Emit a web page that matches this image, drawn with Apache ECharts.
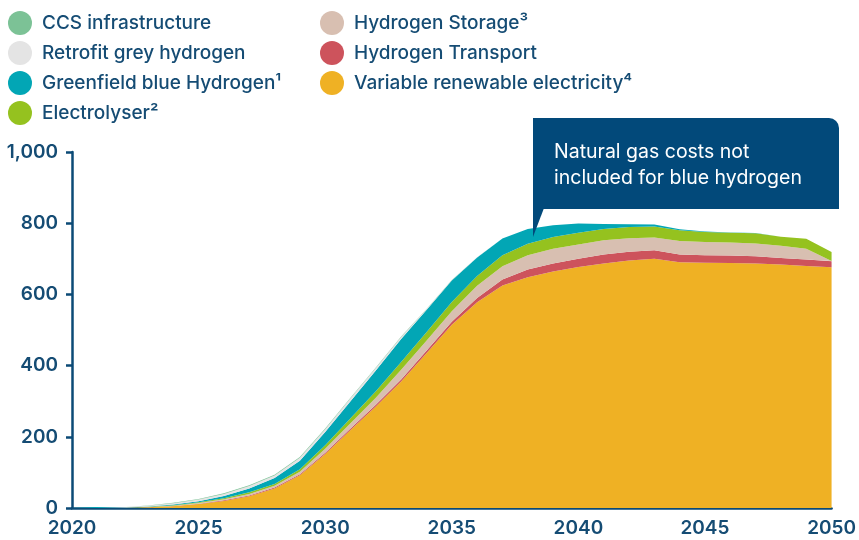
<!DOCTYPE html>
<html><head><meta charset="utf-8">
<script src="https://cdn.jsdelivr.net/npm/echarts@6/dist/echarts.min.js"></script>
<style>html,body{margin:0;padding:0;background:#fff}#c{width:859px;height:540px}</style>
</head><body><div id="c"></div>
<script>
const years = [2020,2021,2022,2023,2024,2025,2026,2027,2028,2029,2030,2031,2032,2033,2034,2035,2036,2037,2038,2039,2040,2041,2042,2043,2044,2045,2046,2047,2048,2049,2050];
const vre =          [0,0,0,2,5,11,20,33,55,92,152,219,285,355,435,515,578,625,648,664,677,687,695,700,690,689,688,687,684,680,676];
const transport =    [0,0,0,0.3,0.6,1,1.5,2,2.5,3,3.5,4,5,6,7,8,12,17,22,23,23,25,24.5,24,22,21,21,20,18,18,17];
const storage =      [0,0,0,0.5,1,2,3,4.5,5,7,11,15,20,27,28,30,34,37,40,41,40,40,38,36,38,37,37,36,35,30,1];
const electrolyser = [0,0,0,0.5,1,2,3,4.5,5,7,10,14,18,22,24,26,28,31,32,33,33,32,32,31,30,28,27,29,25,28,25];
const greenfield =   [0,3,1,1,2,3,6,11,17,24,37,48,58,65,62,60,52,47,42,33,26,14,7.5,5,3,2,1,0.3,0,0,0];
const retrofit =     [0,0,1,2,4,5,6,7,7,8,8,8,7,5,2,1,0.5,0,0,0,0,0,0,0,0,0,0,0,0,0,0];
const ccs =          [0,0,0,0.5,1,1.5,2,2,2,2,2,2,2,2,1,0.5,0,0,0,0,0,0,0,0,0,0,0,0,0,0,0];
const yTicks = [0,200,400,600,800,1000];
const xTicks = [2020,2025,2030,2035,2040,2045,2050];

const names = {
  vre: 'Variable renewable electricity\u2074',
  transport: 'Hydrogen Transport',
  storage: 'Hydrogen Storage\u00b3',
  electrolyser: 'Electrolyser\u00b2',
  greenfield: 'Greenfield blue Hydrogen\u00b9',
  retrofit: 'Retrofit grey hydrogen',
  ccs: 'CCS infrastructure'
};
const colors = {
  vre: '#efb124', transport: '#cd535c', storage: '#d8bfb1', electrolyser: '#95c21f',
  greenfield: '#02a6b5', retrofit: '#e4e4e4', ccs: '#7cc296'
};
const dataMap = {vre, transport, storage, electrolyser, greenfield, retrofit, ccs};
const order = ['vre','transport','storage','electrolyser','greenfield','retrofit','ccs'];
const TXT = '#154c74';
const FONT = 'Inter';

const series = order.map(k => ({
  name: names[k], type: 'line', stack: 'total', symbol: 'none', smooth: false,
  lineStyle: {width: 0}, itemStyle: {color: colors[k]},
  areaStyle: {color: colors[k], opacity: 1},
  data: dataMap[k]
}));

const legendText = {color: TXT, fontSize: 19, fontFamily: FONT, fontWeight: 500, padding: [0,0,0,5]};
const chart = echarts.init(document.getElementById('c'), null, {renderer: 'canvas'});
chart.setOption({
  animation: false,
  backgroundColor: '#fff',
  grid: {left: 72, right: 24, top: 152, bottom: 32, containLabel: false},
  legend: [
    {data: [names.ccs, names.retrofit, names.greenfield, names.electrolyser],
     orient: 'vertical', left: 8, top: 11, padding: 0, icon: 'circle', itemWidth: 24, itemHeight: 24, itemGap: 6,
     textStyle: legendText, selectedMode: false},
    {data: [names.storage, names.transport, names.vre],
     orient: 'vertical', left: 320, top: 11, padding: 0, icon: 'circle', itemWidth: 24, itemHeight: 24, itemGap: 6,
     textStyle: legendText, selectedMode: false}
  ],
  xAxis: {
    type: 'category', data: years.map(String), boundaryGap: false,
    axisLine: {show: true, lineStyle: {color: '#0b4a76', width: 2.5}},
    axisTick: {show: false}, splitLine: {show: false},
    axisLabel: {color: TXT, fontSize: 19, fontFamily: FONT, fontWeight: 600, margin: 11,
      interval: (i, v) => xTicks.indexOf(+v) >= 0, showMaxLabel: true}
  },
  yAxis: {
    type: 'value', min: yTicks[0], max: yTicks[yTicks.length-1], interval: 200,
    axisLine: {show: true, lineStyle: {color: '#0b4a76', width: 2.5}},
    axisTick: {show: true, length: 6, lineStyle: {color: '#0b4a76', width: 2.5}},
    splitLine: {show: false},
    axisLabel: {color: TXT, fontSize: 19, fontFamily: FONT, fontWeight: 600, margin: 14,
      formatter: v => v.toLocaleString('en-US')}
  },
  series: series,
  graphic: [
    {type: 'rect', z: 100, shape: {x: 533, y: 118, width: 306, height: 91, r: [0, 10, 0, 0]},
     style: {fill: '#02497a'}},
    {type: 'polygon', z: 100, shape: {points: [[533, 208], [544, 208], [533, 237]]},
     style: {fill: '#02497a'}},
    {type: 'text', z: 101, x: 554, y: 139, style: {text: 'Natural gas costs not\nincluded for blue hydrogen',
      fill: '#fff', font: '19.5px Inter', lineHeight: 26}}
  ]
});
</script></body></html>
